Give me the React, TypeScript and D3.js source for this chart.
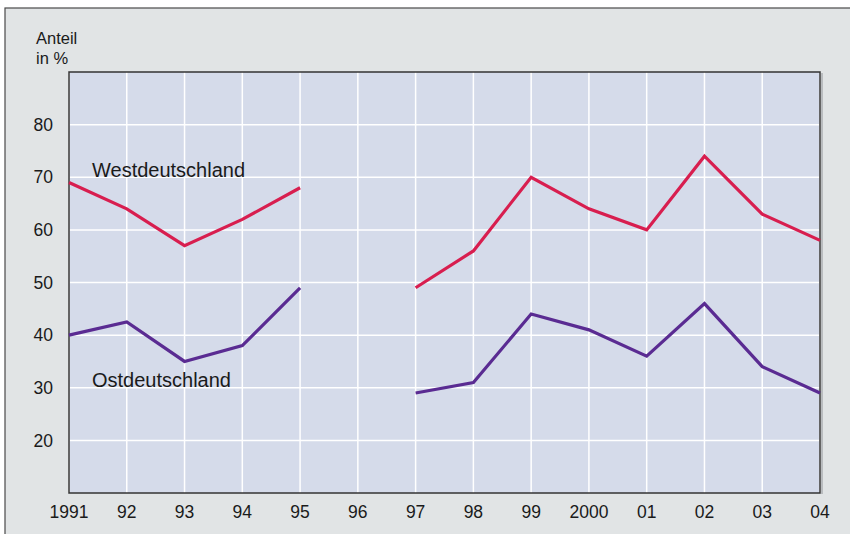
import * as d3 from "d3";

// Anteil in %, 1991–2004 (1996: keine Angabe)
const years = ["1991", "92", "93", "94", "95", "96", "97", "98", "99", "2000", "01", "02", "03", "04"];
const west: (number | null)[] = [69, 64, 57, 62, 68, null, 49, 56, 70, 64, 60, 74, 63, 58];
const ost: (number | null)[] = [40, 42.5, 35, 38, 49, null, 29, 31, 44, 41, 36, 46, 34, 29];
const yTicks = [20, 30, 40, 50, 60, 70, 80];

const W = 850;
const H = 534;
const M = { left: 69, top: 72, right: 820, bottom: 493 };

const WEST_COLOR = "#d81e4f";
const OST_COLOR = "#5a2b92";
const FONT = "'Liberation Sans', Arial, Helvetica, sans-serif";

export default function App() {
  const x = d3.scalePoint<string>().domain(years).range([M.left, M.right]);
  const y = d3.scaleLinear().domain([10, 90]).range([M.bottom, M.top]);

  const line = d3
    .line<number | null>()
    .defined((d) => d !== null)
    .x((_, i) => x(years[i]) ?? 0)
    .y((d) => y(d as number));

  return (
    <svg
      width={W}
      height={H}
      style={{ position: "absolute", left: 0, top: 0, display: "block" }}
    >
      <rect x={0} y={0} width={W} height={H} fill="#ffffff" />
      <rect x={5} y={8} width={W + 10} height={H + 10} fill="#e1e4e5" stroke="#4a4a4a" strokeWidth={1.2} />

      {/* plot area */}
      <rect x={M.left} y={M.top} width={M.right - M.left} height={M.bottom - M.top} fill="#d5dbea" />
      <rect x={M.right + 1} y={M.top + 1} width={2} height={M.bottom - M.top} fill="#b9bcbf" />

      {/* grid */}
      {years.map((yr) => (
        <line key={yr} x1={x(yr)} x2={x(yr)} y1={M.top} y2={M.bottom} stroke="#ffffff" strokeWidth={1.5} />
      ))}
      {yTicks.map((t) => (
        <line key={t} x1={M.left} x2={M.right} y1={y(t)} y2={y(t)} stroke="#ffffff" strokeWidth={1.5} />
      ))}

      <rect
        x={M.left}
        y={M.top}
        width={M.right - M.left}
        height={M.bottom - M.top}
        fill="none"
        stroke="#333333"
        strokeWidth={1.5}
      />

      {/* lines */}
      <path d={line(west) ?? ""} fill="none" stroke={WEST_COLOR} strokeWidth={3.2} strokeLinejoin="miter" />
      <path d={line(ost) ?? ""} fill="none" stroke={OST_COLOR} strokeWidth={3.2} strokeLinejoin="miter" />

      {/* labels */}
      <g fontFamily={FONT} fill="#1a1a1a">
        <g fontSize={17.5}>
          {yTicks.map((t) => (
            <text key={t} x={53} y={y(t)} dy="0.35em" textAnchor="end">
              {t}
            </text>
          ))}
          {years.map((yr) => (
            <text key={yr} x={x(yr)} y={518} textAnchor="middle">
              {yr}
            </text>
          ))}
        </g>
        <g fontSize={16.5}>
          <text x={36} y={44}>Anteil</text>
          <text x={36} y={64}>in %</text>
        </g>
        <g fontSize={20}>
          <text x={92} y={176.5}>Westdeutschland</text>
          <text x={92} y={387}>Ostdeutschland</text>
        </g>
      </g>
    </svg>
  );
}
